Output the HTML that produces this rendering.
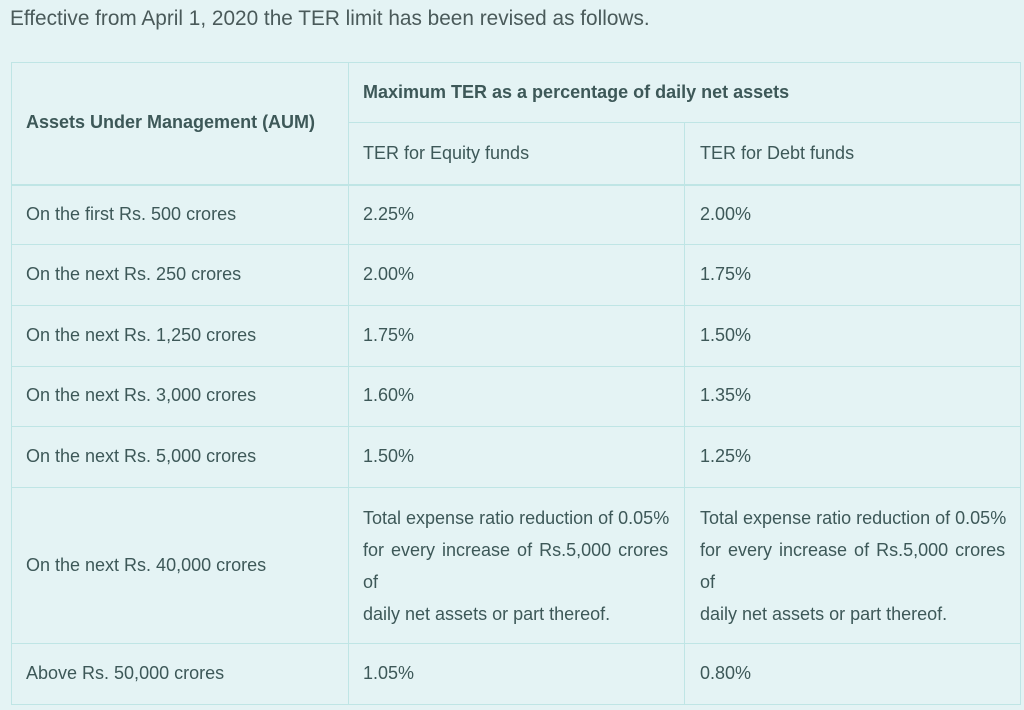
<!DOCTYPE html>
<html><head><style>
body{margin:0;width:1024px;height:710px;background:#e4f3f4;font-family:"Liberation Sans",sans-serif;color:#3d5858;position:relative;overflow:hidden}
.t{position:absolute;white-space:nowrap;font-size:18px;line-height:20px}
.h{position:absolute;background:#bfe5e5}
</style></head><body>
<div class="t" style="left:10px;top:7px;font-size:20.8px;line-height:24px;color:#4a5a5a">Effective from April 1, 2020 the TER limit has been revised as follows.</div>
<div style="position:absolute;left:11px;top:62px;width:1008px;height:641px;border:1px solid #bfe5e5"></div>
<div class="h" style="left:348px;top:62px;width:1px;height:642px"></div>
<div class="h" style="left:684px;top:122px;width:1px;height:582px"></div>
<div class="h" style="left:348px;top:122px;width:673px;height:1px"></div>
<div class="h" style="left:11px;top:184px;width:1010px;height:2px"></div>
<div class="h" style="left:11px;top:244px;width:1010px;height:1px"></div>
<div class="h" style="left:11px;top:305px;width:1010px;height:1px"></div>
<div class="h" style="left:11px;top:366px;width:1010px;height:1px"></div>
<div class="h" style="left:11px;top:426px;width:1010px;height:1px"></div>
<div class="h" style="left:11px;top:487px;width:1010px;height:1px"></div>
<div class="h" style="left:11px;top:643px;width:1010px;height:1px"></div>
<div class="t" style="left:26px;top:112px;font-weight:bold">Assets Under Management (AUM)</div>
<div class="t" style="left:363px;top:82px;font-weight:bold">Maximum TER as a percentage of daily net assets</div>
<div class="t" style="left:363px;top:143px">TER for Equity funds</div>
<div class="t" style="left:700px;top:143px">TER for Debt funds</div>
<div class="t" style="left:26px;top:204px">On the first Rs. 500 crores</div>
<div class="t" style="left:363px;top:204px">2.25%</div>
<div class="t" style="left:700px;top:204px">2.00%</div>
<div class="t" style="left:26px;top:264px">On the next Rs. 250 crores</div>
<div class="t" style="left:363px;top:264px">2.00%</div>
<div class="t" style="left:700px;top:264px">1.75%</div>
<div class="t" style="left:26px;top:325px">On the next Rs. 1,250 crores</div>
<div class="t" style="left:363px;top:325px">1.75%</div>
<div class="t" style="left:700px;top:325px">1.50%</div>
<div class="t" style="left:26px;top:385px">On the next Rs. 3,000 crores</div>
<div class="t" style="left:363px;top:385px">1.60%</div>
<div class="t" style="left:700px;top:385px">1.35%</div>
<div class="t" style="left:26px;top:446px">On the next Rs. 5,000 crores</div>
<div class="t" style="left:363px;top:446px">1.50%</div>
<div class="t" style="left:700px;top:446px">1.25%</div>
<div class="t" style="left:26px;top:555px">On the next Rs. 40,000 crores</div>
<div class="t" style="left:363px;top:502px;line-height:32px">Total expense ratio reduction of 0.05%<br><span style="word-spacing:2px">for every increase of Rs.5,000 crores</span><br>of<br>daily net assets or part thereof.</div>
<div class="t" style="left:700px;top:502px;line-height:32px">Total expense ratio reduction of 0.05%<br><span style="word-spacing:2px">for every increase of Rs.5,000 crores</span><br>of<br>daily net assets or part thereof.</div>
<div class="t" style="left:26px;top:663px">Above Rs. 50,000 crores</div>
<div class="t" style="left:363px;top:663px">1.05%</div>
<div class="t" style="left:700px;top:663px">0.80%</div>
</body></html>
